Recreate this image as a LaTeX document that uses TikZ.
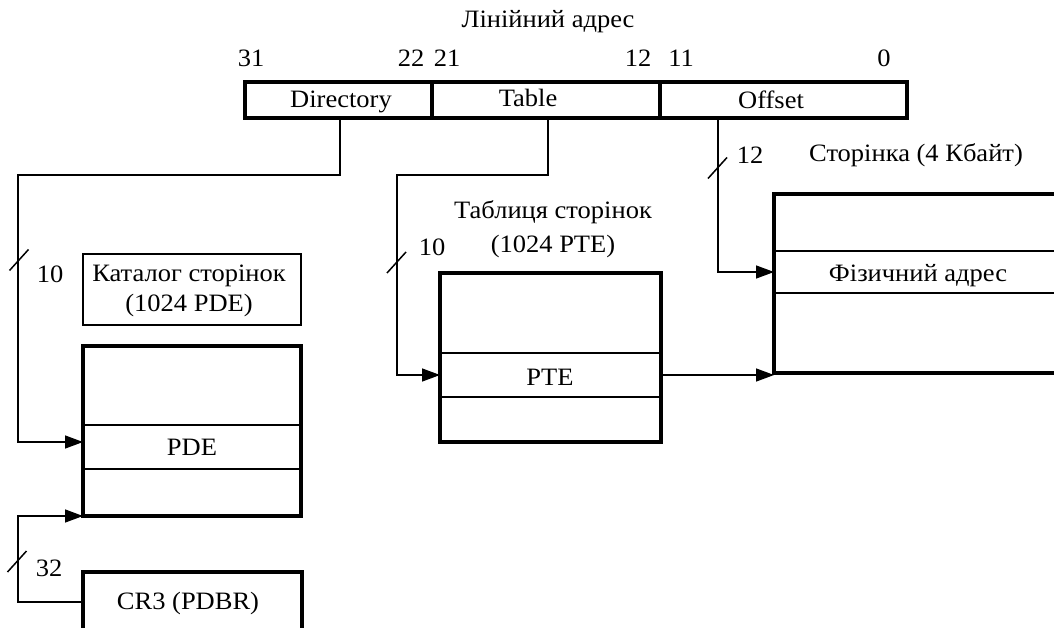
\documentclass[tikz,border=0pt]{standalone}
\usepackage{fontspec}
\setmainfont{Liberation Serif}[FakeStretch=1.06]
\usetikzlibrary{arrows.meta}
\begin{document}
\begin{tikzpicture}[x=1pt,y=-1pt,
  every node/.style={inner sep=0pt, outer sep=0pt},
  txt/.style={font=\fontsize{25}{30}\selectfont, text height=16.5pt, text depth=0pt},
  heavy/.style={draw, line width=3.5pt, rectangle},
  light/.style={draw, line width=1.5pt, rectangle},
  blank/.style={rectangle},
  wire/.style={line width=1.5pt},
  feed/.style={wire, -{Triangle[length=18pt,width=13pt]}},
  slash/.style={line width=1.5pt}]

\useasboundingbox (0,0) rectangle (1054,628);
\clip (0,0) rectangle (1054,628);

% linear address register
\node[txt] (title) at (548,19) {Лінійний адрес};
\node[txt] (b31) at (251,58) {31};
\node[txt] (b22) at (411,58) {22};
\node[txt] (b21) at (447,58) {21};
\node[txt] (b12) at (638,58) {12};
\node[txt] (b11) at (681,58) {11};
\node[txt] (b0)  at (884,58) {0};

\node[heavy, minimum width=187, minimum height=36] (dir) at (338.5,100) {};
\node[heavy, minimum width=228, minimum height=36] (tab) at (546,100) {};
\node[heavy, minimum width=247, minimum height=36] (off) at (783.5,100) {};
\node[txt] (dirtxt) at (341,99) {Directory};
\node[txt] (tabtxt) at (528,98) {Table};
\node[txt] (offtxt) at (771,100.5) {Offset};

\coordinate (dirtap) at (340,118);
\coordinate (tabtap) at (548,118);
\coordinate (offtap) at (718,118);

% page directory
\node[light, minimum width=218, minimum height=71] (pdlabel) at (192,289.5) {};
\node[txt] (pdname1) at (189,273) {Каталог сторінок};
\node[txt] (pdname2) at (189,303) {(1024 PDE)};
\node[heavy, minimum width=218, minimum height=170] (pdir) at (192,431) {};
\node[blank, minimum width=218, minimum height=44] (pderow) at (192,447) {};
\draw[wire] (pderow.north west) -- (pderow.north east);
\draw[wire] (pderow.south west) -- (pderow.south east);
\node[txt] (pdetxt) at (192,447) {PDE};

% CR3 register
\node[heavy, minimum width=219, minimum height=70] (cr3) at (192.5,607) {};
\node[txt] (cr3txt) at (188,601.5) {CR3 (PDBR)};
\coordinate (cr3w) at (83,602);

% page table
\node[txt] (ptname1) at (553,210.5) {Таблиця сторінок};
\node[txt] (ptname2) at (553,244.5) {(1024 PTE)};
\node[heavy, minimum width=221, minimum height=169] (ptab) at (550.5,357.5) {};
\node[blank, minimum width=221, minimum height=44] (ptrow) at (550.5,375) {};
\draw[wire] (ptrow.north west) -- (ptrow.north east);
\draw[wire] (ptrow.south west) -- (ptrow.south east);
\node[txt] (ptetxt) at (550,377) {PTE};

% 4 KB page
\node[txt] (pgname) at (916,153) {Сторінка (4 Кбайт)};
\node[heavy, minimum width=300, minimum height=179] (page) at (924,283.5) {};
\node[blank, minimum width=300, minimum height=42] (physrow) at (924,272) {};
\draw[wire] (physrow.north west) -- (physrow.north east);
\draw[wire] (physrow.south west) -- (physrow.south east);
\node[txt] (phystxt) at (918,273) {Фізичний адрес};

% connectors
\draw[feed] (dirtap) -- (340,175) -- (18,175) -- (18,442) -- (pderow.west |- 0,442);
\draw[feed] (tabtap) -- (548,175) -- (397,175) -- (397,375) -- (ptrow.west);
\draw[feed] (offtap) -- (718,272) -- (physrow.west);
\draw[feed] (ptrow.east) -- (ptrow.east -| page.west);
\draw[feed] (cr3w) -- (18,602) -- (18,516) -- (pdir.south west);

% bus width marks
\coordinate (s1) at (19,260);
\coordinate (s2) at (396.5,262.5);
\coordinate (s3) at (717.5,168);
\coordinate (s4) at (17,561.5);
\foreach \s in {s1,s2,s3,s4}
  \draw[slash] ([shift={(-9.5,10.5)}]\s) -- ([shift={(9.5,-10.5)}]\s);
\node[txt] (w1) at (50,274.5) {10};
\node[txt] (w2) at (432,247) {10};
\node[txt] (w3) at (750,155.5) {12};
\node[txt] (w4) at (49,568) {32};
\end{tikzpicture}
\end{document}
